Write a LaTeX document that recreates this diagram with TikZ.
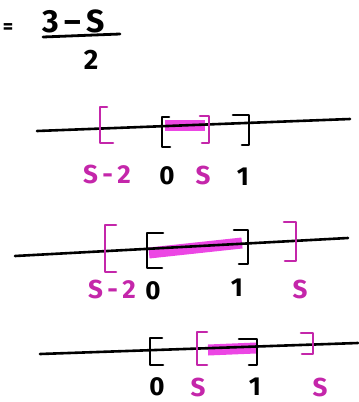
\documentclass[tikz,border=0pt]{standalone}
\usepackage{fontspec}
\setmainfont{Fira Sans}
\usepackage{xcolor}
\usetikzlibrary{positioning}
\definecolor{inkpink}{RGB}{196,38,170}
\definecolor{hlpink}{RGB}{236,70,228}
\tikzset{
  axis/.style={line width=2.6pt, black, line cap=round},
  brk/.style={line width=2.6pt, line cap=round, line join=round},
  hl/.style={line width=11pt, hlpink},
  lbl/.style={font=\fontsize{26}{30}\selectfont\bfseries, inner sep=0pt},
}

\begin{document}
\begin{tikzpicture}[x=1pt, y=-1pt]
    \useasboundingbox (0,0) rectangle (359,402);

    % Result
    \node[lbl, font=\fontsize{20}{24}\selectfont\bfseries] (eq) at (8,29) {=};
    \node[lbl, font=\fontsize{32}{36}\selectfont\bfseries] (num) at (74,21) {3\,–\,S};
    \draw[line width=2.8pt, line cap=round] (43,37) -- (120,34);
    \node[lbl, font=\fontsize{28}{32}\selectfont\bfseries] (den) at (91,60) {2};

    % First line
    \draw[hl] (165,125) -- (205,125);
    \draw[axis] (37,131) -- (350,119);
    \draw[brk, inkpink] (107,107) -| (100,143) -- (113,143);
    \draw[brk] (169,117) -| (162,147) -- (170,147);
    \draw[brk, inkpink] (200,116) -| (209,143) -- (202,143);
    \draw[brk] (233,115) -| (249,145) -- (242,145);
    \node[lbl, inkpink] (a1) at (107,174) {S\,-\,2};
    \node[lbl] (b1) at (167,176) {0};
    \node[lbl, inkpink] (c1) at (203,175) {S};
    \node[lbl] (d1) at (243,177) {1};

    % Second line
    \draw[hl] (149,253) -- (242,243);
    \draw[axis] (15,256) -- (348,238);
    \draw[brk, inkpink] (116,225) -| (105,272) -- (116,272);
    \draw[brk] (163,233) -| (147,268) -- (162,268);
    \draw[brk] (234,230) -| (248,264) -- (239,264);
    \draw[brk, inkpink] (284,222) -| (296,261) -- (285,261);
    \node[lbl, inkpink] (a2) at (112,289) {S\,-\,2};
    \node[lbl] (b2) at (153,291) {0};
    \node[lbl] (c2) at (237,288) {1};
    \node[lbl, inkpink] (d2) at (300,289) {S};

    % Third line
    \draw[hl] (208,350) -- (256,348);
    \draw[axis] (40,354) -- (358,343);
    \draw[brk] (162,338) -| (150,365) -- (163,365);
    \draw[brk, inkpink] (207,332) -| (197,365) -- (207,365);
    \draw[brk] (239,339) -| (257,365) -- (249,365);
    \draw[brk, inkpink] (301,333) -| (313,354) -- (302,354);
    \node[lbl] (a3) at (157,387) {0};
    \node[lbl, inkpink] (b3) at (198,387) {S};
    \node[lbl] (c3) at (255,387) {1};
    \node[lbl, inkpink] (d3) at (320,387) {S};
\end{tikzpicture}
\end{document}
